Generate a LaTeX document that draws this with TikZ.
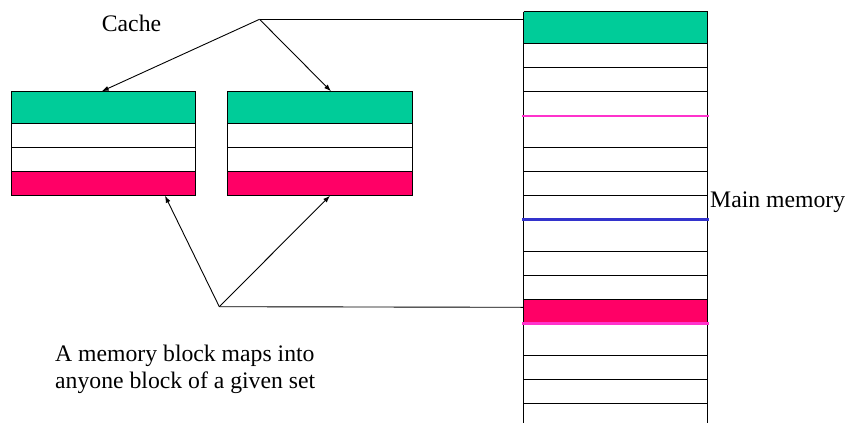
\documentclass[tikz,border=0pt]{standalone}
\usepackage{fontspec}
\setmainfont{Liberation Serif}
\usetikzlibrary{arrows.meta}
\definecolor{cgreen}{HTML}{00CC99}
\definecolor{cred}{HTML}{FF0066}
\definecolor{cpink}{HTML}{FF33CC}
\definecolor{cblue}{HTML}{3333CC}
\tikzset{
  lbl/.style={inner sep=0pt, font=\fontsize{23.7}{28}\selectfont, anchor=base west},
  frame/.style={draw=black, line width=1pt, fill=none, inner sep=0pt, minimum width=184pt, minimum height=104.4pt},
  thin/.style={draw=black, line width=1pt},
  conn/.style={draw=black, line width=0.9pt, -{Latex[length=7pt,width=5pt]}},
  plain/.style={draw=black, line width=0.9pt},
  mark1/.style={draw=cpink, line width=2.4pt},
  mark2/.style={draw=cblue, line width=2.4pt}
}
\begin{document}
\begin{tikzpicture}[x=1pt,y=-1pt]
\useasboundingbox (0,0) rectangle (850,423);
% ---- cache blocks ----
\foreach \xa/\xb in {11.7/195.7, 227.7/412.3}{
  \fill[cgreen] (\xa,91.3) rectangle (\xb,123.3);
  \fill[cred] (\xa,171.3) rectangle (\xb,195.7);
  \draw[thin] (\xa,123.3) -- (\xb,123.3);
  \draw[thin] (\xa,147.3) -- (\xb,147.3);
  \draw[thin] (\xa,171.3) -- (\xb,171.3);
}
\node[frame] (c1) at (103.7,143.5) {};
\node[frame, minimum width=184.6pt] (c2) at (320,143.5) {};
% ---- main memory ----
\fill[cgreen] (523.5,11.7) rectangle (707.7,43.3);
\fill[cred] (523.5,299.7) rectangle (707.7,323.3);
\foreach \yy in {11.7,43.3,67.3,91.3,147.7,171.3,195.7,251.7,275.7,299.7,355.7,379.7,403.7}{
  \draw[thin] (523.5,\yy) -- (707.7,\yy);
}
\draw[thin] (523.5,11.7) -- (523.5,423);
\draw[thin] (707.7,11.7) -- (707.7,423);
\draw[mark1] (522,115.7) -- (709,115.7);
\draw[mark2] (522,219.3) -- (709,219.3);
\draw[mark1] (522,323.3) -- (709,323.3);
% ---- connectors ----
\coordinate (top) at (259.5,19.3);
\coordinate (memtop) at (523.5,19.3);
\coordinate (bot) at (219.3,306.7);
\coordinate (membot) at (523.5,307.3);
\coordinate (c1t) at (101.7,91.3);
\coordinate (c2t) at (331,91.3);
\coordinate (c1b) at (165,195.7);
\coordinate (c2b) at (330,195.7);
\draw[plain] (memtop) -- (top);
\draw[conn] (top) -- (c1t);
\draw[conn] (top) -- (c2t);
\draw[plain] (membot) -- (bot);
\draw[conn] (bot) -- (c1b);
\draw[conn] (bot) -- (c2b);
% ---- labels ----
\node[lbl] (cache) at (101.7,31.5) {Cache};
\node[lbl] (mainmem) at (710,207) {Main memory};
\node[lbl] (t1) at (55,361) {A memory block maps into};
\node[lbl] (t2) at (55,388) {anyone block of a given set};
\end{tikzpicture}
\end{document}
